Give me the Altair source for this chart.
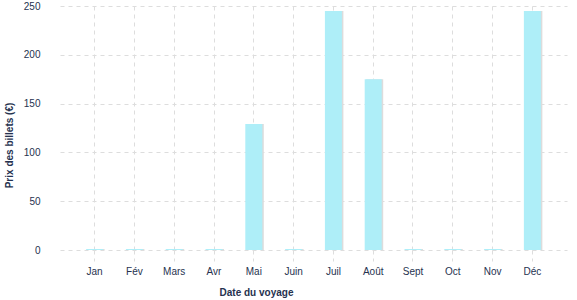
import altair as alt
import pandas as pd

months = ["Jan", "Fév", "Mars", "Avr", "Mai", "Juin", "Juil", "Août", "Sept", "Oct", "Nov", "Déc"]
prices = [1, 1, 1, 1, 129, 1, 245, 175, 1, 1, 1, 245]

df = pd.DataFrame({"mois": months, "prix": prices})

navy = "#26324f"
font = "Liberation Sans"

x = alt.X("mois:N", sort=months,
          scale=alt.Scale(paddingInner=0, paddingOuter=0.37),
          axis=alt.Axis(title="Date du voyage", labelAngle=0, domain=False,
                        grid=True, gridDash=[4, 4], gridColor="#dddddd",
                        ticks=True, tickDash=[4, 4], tickColor="#dddddd", tickSize=11,
                        labelPadding=5, labelFont=font, labelFontSize=10, labelColor=navy,
                        titleFont=font, titleFontSize=10, titleFontWeight="bold", titleColor=navy,
                        titleX=196, titleY=37, titleAnchor="middle"))
y = alt.Y("prix:Q", scale=alt.Scale(domain=[0, 250], nice=False),
          axis=alt.Axis(title="Prix des billets (€)", values=[0, 50, 100, 150, 200, 250],
                        domain=False, ticks=False, grid=True, gridDash=[4, 4], gridColor="#dddddd",
                        labelPadding=20, labelFont=font, labelFontSize=10, labelColor=navy,
                        titleFont=font, titleFontSize=10, titleFontWeight="bold", titleColor=navy,
                        titleAngle=-90, titleX=-46, titleY=139, titleAnchor="middle"))

shadow = alt.Chart(df).mark_bar(color="#dcdcdc", size=17, xOffset=1.5).encode(x=x, y=y)
bars = alt.Chart(df).mark_bar(color="#aeeef8", size=17).encode(x=x, y=y)

chart = (shadow + bars).properties(
    width=507, height=244,
    padding={"left": 60, "top": 6, "right": 10, "bottom": 50},
    autosize=alt.AutoSizeParams(type="none"),
).configure_view(stroke=None)

chart.save("out.html", embed_options={"renderer": "svg", "actions": False})
